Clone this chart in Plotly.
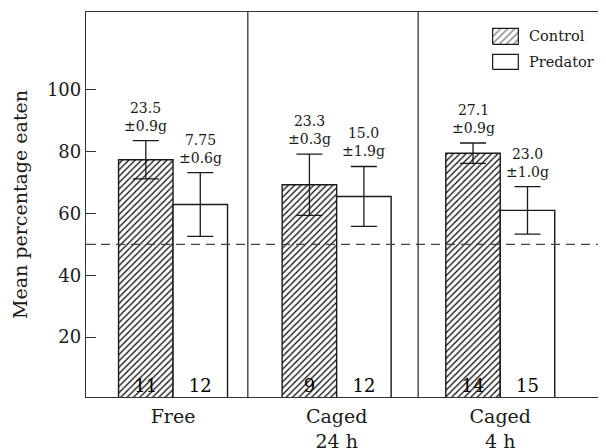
import plotly.graph_objects as go

# ---- data ----
groups = ["Free", "Caged<br>24 h", "Caged<br>4 h"]
control_mean = [77.4, 69.3, 79.5]
control_err = [6.2, 9.9, 3.3]
predator_mean = [62.9, 65.5, 61.0]
predator_err = [10.3, 9.7, 7.7]
control_n = ["11", "9", "14"]
predator_n = ["12", "12", "15"]
control_mass = ["23.5<br>±0.9g", "23.3<br>±0.3g", "27.1<br>±0.9g"]
predator_mass = ["7.75<br>±0.6g", "15.0<br>±1.9g", "23.0<br>±1.0g"]
chance_level = 50
y_tick_vals = [20, 40, 50, 60, 80, 100]
y_tick_text = ["20", "40", "", "60", "80", "100"]

# ---- style ----
FONT = "DejaVu Serif"
INK = "#1a1a1a"
LINE = "#333"
BW = 0.333
xpos = list(range(len(groups)))

hatch = dict(shape="/", size=4.5, solidity=0.32, fgcolor=INK, bgcolor="white", fillmode="replace")

fig = go.Figure()
fig.add_trace(go.Bar(
    x=xpos, y=control_mean, width=BW, offset=-BW,
    marker=dict(color="white", pattern=hatch, line=dict(color=INK, width=1.4)),
    error_y=dict(type="data", array=control_err, color=INK, thickness=1.3, width=13),
    text=control_n, textposition="inside", insidetextanchor="start", textangle=0,
    insidetextfont=dict(family=FONT, size=18, color="black"),
    showlegend=False, hoverinfo="skip",
))
fig.add_trace(go.Bar(
    x=xpos, y=predator_mean, width=BW, offset=0,
    marker=dict(color="white", line=dict(color=INK, width=1.4)),
    error_y=dict(type="data", array=predator_err, color=INK, thickness=1.3, width=13),
    text=predator_n, textposition="inside", insidetextanchor="start", textangle=0,
    insidetextfont=dict(family=FONT, size=18, color="black"),
    showlegend=False, hoverinfo="skip",
))

# mass annotations above error bars
for i in xpos:
    fig.add_annotation(x=i - BW / 2, y=control_mean[i] + control_err[i], text=control_mass[i],
                       showarrow=False, yanchor="bottom", yshift=5,
                       font=dict(family=FONT, size=14, color=INK))
    fig.add_annotation(x=i + BW / 2, y=predator_mean[i] + predator_err[i], text=predator_mass[i],
                       showarrow=False, yanchor="bottom", yshift=5,
                       font=dict(family=FONT, size=14, color=INK))

# chance line
fig.add_shape(type="line", xref="paper", x0=0, x1=1, yref="y", y0=chance_level, y1=chance_level,
              line=dict(color="#444", width=1.3, dash="9px,6px"))
# group separators
for sx in [0.457, 1.498]:
    fig.add_shape(type="line", xref="x", x0=sx, x1=sx, yref="paper", y0=0, y1=1,
                  line=dict(color=LINE, width=1.3))

# custom legend (paper-like overlay axes)
legend_items = [("Control", True, 0.9577, 0.9161), ("Predator", False, 0.8901, 0.8512)]
kx0, kx1, tx = 0.785, 0.8346, 0.8508
for name, hatched, ya, yb in legend_items:
    fig.add_trace(go.Scatter(
        x=[kx0, kx1, kx1, kx0, kx0], y=[yb, yb, ya, ya, yb], xaxis="x2", yaxis="y2",
        mode="lines", fill="toself", fillcolor="white",
        fillpattern=dict(shape="/", size=5, solidity=0.3, fgcolor=INK, bgcolor="white") if hatched else None,
        line=dict(color=INK, width=1.2), showlegend=False, hoverinfo="skip",
    ))
    fig.add_annotation(xref="paper", yref="paper", x=tx, y=(ya + yb) / 2, text=name,
                       showarrow=False, xanchor="left", yanchor="middle",
                       font=dict(family=FONT, size=14.5, color=INK))

# page body has an 8px margin: size/margins compensate so the plot box lands at x 86-604, y 12-397
fig.update_layout(
    width=598, height=440,
    margin=dict(l=78, r=2, t=4, b=51, autoexpand=False),
    paper_bgcolor="white", plot_bgcolor="white",
    barmode="overlay",
    font=dict(family=FONT, color=INK),
    xaxis=dict(range=[-0.532, 2.634], tickvals=xpos, ticktext=groups, ticks="",
               tickfont=dict(family=FONT, size=19, color=INK), ticklabelstandoff=2,
               automargin=False,
               showline=True, linecolor=LINE, linewidth=1.3, mirror=True,
               showgrid=False, zeroline=False, fixedrange=True),
    yaxis=dict(range=[0.6, 125.2], tickvals=y_tick_vals, ticktext=y_tick_text,
               ticks="inside", ticklen=10, tickcolor=LINE, tickwidth=1.3,
               tickfont=dict(family=FONT, size=18, color=INK), automargin=False,
               title=dict(text="Mean percentage eaten", font=dict(family=FONT, size=19, color=INK), standoff=14),
               showline=True, linecolor=LINE, linewidth=1.3, mirror=True,
               showgrid=False, zeroline=False, fixedrange=True),
    xaxis2=dict(domain=[0, 1], range=[0, 1], overlaying="x", anchor="y2", visible=False, fixedrange=True),
    yaxis2=dict(domain=[0, 1], range=[0, 1], overlaying="y", anchor="x2", visible=False, fixedrange=True),
)

fig.write_html("out.html")
